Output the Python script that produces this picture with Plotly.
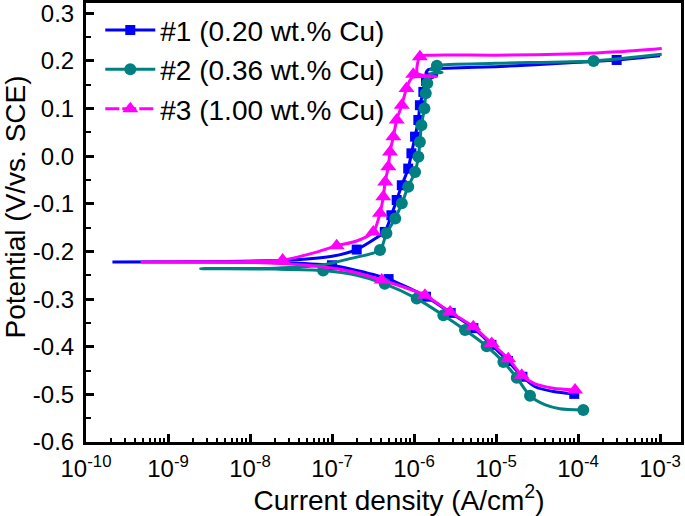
import plotly.graph_objects as go

# ---------------- data ----------------
NAMES = ["#1 (0.20 wt.% Cu)", "#2 (0.36 wt.% Cu)", "#3 (1.00 wt.% Cu)"]

# Series 1 (blue) - full polarization curve (current density A/cm2, potential V)
S1_LINE_I = [9.0e-5, 5.0e-5, 3.0e-5, 2.1e-5, 1.4e-5, 8.8e-6, 5.3e-6, 2.8e-6, 1.4e-6,
             4.9e-7, 2.0e-7, 1.0e-7, 3.0e-8, 5.0e-9, 2.1e-10, 5.0e-9, 3.0e-8, 1.0e-7,
             2.0e-7, 3.5e-7, 4.4e-7, 5.3e-7, 6.15e-7, 7.1e-7, 8.5e-7, 9.3e-7, 1.03e-6,
             1.13e-6, 1.18e-6, 1.3e-6, 1.4e-6, 1.9e-6, 1.4e-6, 1.5e-6, 3.0e-6, 1.0e-5,
             3.0e-5, 1.0e-4, 2.96e-4, 1.0e-3]
S1_LINE_E = [-0.499, -0.494, -0.484, -0.463, -0.430, -0.396, -0.361, -0.329, -0.295,
             -0.258, -0.240, -0.229, -0.224, -0.222, -0.222, -0.221, -0.218, -0.210,
             -0.196, -0.171, -0.159, -0.124, -0.092, -0.061, -0.026, 0.006, 0.041,
             0.076, 0.107, 0.135, 0.158, 0.170, 0.174, 0.182, 0.185, 0.188,
             0.192, 0.197, 0.202, 0.211]
S1_MARK_I = [9.0e-5, 2.1e-5, 1.4e-5, 8.8e-6, 5.3e-6, 2.8e-6, 1.4e-6, 4.9e-7, 1.0e-7,
             2.0e-7, 4.4e-7, 5.3e-7, 6.15e-7, 7.1e-7, 8.5e-7, 9.3e-7, 1.03e-6, 1.13e-6,
             1.18e-6, 1.3e-6, 1.4e-6, 2.96e-4]
S1_MARK_E = [-0.499, -0.463, -0.430, -0.396, -0.361, -0.329, -0.295, -0.258, -0.229,
             -0.196, -0.159, -0.124, -0.092, -0.061, -0.026, 0.006, 0.041, 0.076,
             0.107, 0.135, 0.158, 0.202]

# Series 2 (teal)
S2_LINE_I = [1.16e-4, 6.0e-5, 4.0e-5, 2.6e-5, 1.79e-5, 1.23e-5, 7.7e-6, 4.19e-6, 2.28e-6,
             1.08e-6, 4.4e-7, 2.0e-7, 7.8e-8, 2.0e-8, 2.5e-9, 2.0e-8, 7.1e-8, 1.66e-7,
             3.85e-7, 4.6e-7, 5.9e-7, 7.1e-7, 8.5e-7, 1.03e-6, 1.13e-6, 1.18e-6, 1.23e-6,
             1.34e-6, 1.39e-6, 1.45e-6, 1.55e-6, 2.2e-6, 1.6e-6, 1.9e-6, 1.0e-5, 1.55e-4,
             1.05e-3]
S2_LINE_E = [-0.533, -0.530, -0.522, -0.503, -0.465, -0.432, -0.399, -0.365, -0.334,
             -0.299, -0.268, -0.250, -0.240, -0.237, -0.236, -0.235, -0.229, -0.215,
             -0.197, -0.162, -0.131, -0.099, -0.064, -0.033, -0.001, 0.030, 0.065,
             0.100, 0.132, 0.153, 0.172, 0.176, 0.182, 0.190, 0.195, 0.200,
             0.214]
S2_MARK_I = [1.16e-4, 2.6e-5, 1.79e-5, 1.23e-5, 7.7e-6, 4.19e-6, 2.28e-6, 1.08e-6, 4.4e-7,
             7.8e-8, 3.85e-7, 4.6e-7, 5.9e-7, 7.1e-7, 8.5e-7, 1.03e-6, 1.13e-6, 1.18e-6,
             1.23e-6, 1.34e-6, 1.39e-6, 1.45e-6, 1.9e-6, 1.55e-4]
S2_MARK_E = [-0.533, -0.503, -0.465, -0.432, -0.399, -0.365, -0.334, -0.299, -0.268,
             -0.240, -0.197, -0.162, -0.131, -0.099, -0.064, -0.033, -0.001, 0.030,
             0.065, 0.100, 0.132, 0.153, 0.190, 0.200]

# Series 3 (magenta)
S3_LINE_I = [9.2e-5, 5.0e-5, 3.0e-5, 2.06e-5, 1.41e-5, 8.87e-6, 5.28e-6, 2.75e-6, 1.36e-6,
             4.04e-7, 1.5e-7, 5.0e-8, 1.0e-8, 4.8e-10, 1.0e-8, 2.5e-8, 6.0e-8, 1.14e-7,
             2.0e-7, 3.19e-7, 3.85e-7, 4.22e-7, 4.45e-7, 4.86e-7, 5.1e-7, 5.6e-7, 6.15e-7,
             7.1e-7, 8.1e-7, 9.5e-7, 1.9e-6, 1.1e-6, 1.18e-6, 1.5e-6, 1.0e-5, 1.0e-4,
             3.0e-4, 1.05e-3]
S3_LINE_E = [-0.491, -0.487, -0.478, -0.460, -0.425, -0.393, -0.358, -0.327, -0.292,
             -0.260, -0.240, -0.229, -0.223, -0.222, -0.221, -0.218, -0.203, -0.188,
             -0.178, -0.159, -0.120, -0.085, -0.054, -0.022, 0.009, 0.041, 0.076,
             0.107, 0.142, 0.165, 0.167, 0.174, 0.209, 0.212, 0.212, 0.215,
             0.219, 0.226]
S3_MARK_I = [9.2e-5, 2.06e-5, 1.41e-5, 8.87e-6, 5.28e-6, 2.75e-6, 1.36e-6, 4.04e-7, 2.5e-8,
             1.14e-7, 3.19e-7, 3.85e-7, 4.22e-7, 4.45e-7, 4.86e-7, 5.1e-7, 5.6e-7, 6.15e-7,
             7.1e-7, 8.1e-7, 9.8e-7, 1.18e-6]
S3_MARK_E = [-0.491, -0.460, -0.425, -0.393, -0.358, -0.327, -0.292, -0.260, -0.218,
             -0.188, -0.159, -0.120, -0.085, -0.054, -0.022, 0.009, 0.041, 0.076,
             0.107, 0.142, 0.172, 0.209]

Y_TICK_VALS = [-0.6, -0.5, -0.4, -0.3, -0.2, -0.1, 0.0, 0.1, 0.2, 0.3]
Y_TICK_TEXT = ["-0.6", "-0.5", "-0.4", "-0.3", "-0.2", "-0.1", "0.0", "0.1", "0.2", "0.3"]
X_EXPONENTS = [-10, -9, -8, -7, -6, -5, -4, -3]
X_TITLE = "Current density (A/cm<sup>2</sup>)"
Y_TITLE = "Potential (V/vs. SCE)"

# ---------------- styling ----------------
COLORS = ["#0000FF", "#008080", "#FF00FF"]
SYMBOLS = ["square", "circle", "triangle-up"]
MSIZES = [10, 12, 14]
FONT = "Arial, Liberation Sans, sans-serif"
PAD = "\u200b" + "\u00a0" * 4  # shifts the centred axis titles slightly, as in the reference

series = [
    (S1_LINE_I, S1_LINE_E, S1_MARK_I, S1_MARK_E),
    (S2_LINE_I, S2_LINE_E, S2_MARK_I, S2_MARK_E),
    (S3_LINE_I, S3_LINE_E, S3_MARK_I, S3_MARK_E),
]

fig = go.Figure()
for k, (li, le, mi, me) in enumerate(series):
    fig.add_trace(go.Scatter(x=li, y=le, mode="lines", showlegend=False,
                             line=dict(color=COLORS[k], width=3, shape="spline", smoothing=0.7),
                             hoverinfo="skip"))
    fig.add_trace(go.Scatter(x=mi, y=me, mode="markers", showlegend=False,
                             marker=dict(color=COLORS[k], symbol=SYMBOLS[k], size=MSIZES[k],
                                         line=dict(width=0))))
    # legend entry (line + symbol)
    fig.add_trace(go.Scatter(x=[None], y=[None], mode="lines+markers", name=NAMES[k],
                             line=dict(color=COLORS[k], width=3,
                                       dash="14px,3px" if k == 2 else "solid"),
                             marker=dict(color=COLORS[k], symbol=SYMBOLS[k], size=MSIZES[k],
                                         line=dict(width=0))))

x_tickvals = [10.0 ** e for e in X_EXPONENTS]
x_ticktext = [f"10<sup>{e}</sup>" for e in X_EXPONENTS]
x_minor = [m * 10.0 ** e for e in range(-10, -2) for m in range(2, 10)]
y_minor = [round(-0.55 + 0.1 * j, 3) for j in range(10)]

axis_common = dict(showline=True, linecolor="black", linewidth=3, mirror=True,
                   ticks="inside", tickcolor="black", tickwidth=2.5, ticklen=8,
                   showgrid=False, zeroline=False, automargin=False,
                   ticklabeloverflow="allow",
                   tickfont=dict(family=FONT, size=24, color="black"))

fig.update_xaxes(type="log", range=[-10, -2.744], tickmode="array",
                 tickvals=x_tickvals, ticktext=x_ticktext,
                 minor=dict(tickmode="array", tickvals=x_minor, ticks="inside",
                            ticklen=4, tickwidth=2, tickcolor="black"),
                 ticklabelstandoff=3,
                 title=dict(text=PAD + X_TITLE,
                            font=dict(family=FONT, size=28, color="black"), standoff=2),
                 **axis_common)
fig.update_yaxes(range=[-0.6, 0.3216], tickmode="array",
                 tickvals=Y_TICK_VALS, ticktext=Y_TICK_TEXT,
                 minor=dict(tickmode="array", tickvals=y_minor, ticks="inside",
                            ticklen=5, tickwidth=2, tickcolor="black"),
                 ticklabelstandoff=4,
                 title=dict(text=PAD + Y_TITLE,
                            font=dict(family=FONT, size=28, color="black"), standoff=0),
                 **axis_common)

fig.update_layout(
    width=685, height=516,
    margin=dict(l=86, r=4, t=3, b=74),
    paper_bgcolor="white", plot_bgcolor="white",
    legend=dict(x=0.024, y=0.995, xanchor="left", yanchor="top",
                bgcolor="rgba(0,0,0,0)", borderwidth=0,
                font=dict(family=FONT, size=28, color="black"),
                itemwidth=50, tracegroupgap=0),
)

fig.write_html("out.html", config={"displayModeBar": False},
               post_script="document.body.style.margin='0';document.body.style.overflow='hidden';")
